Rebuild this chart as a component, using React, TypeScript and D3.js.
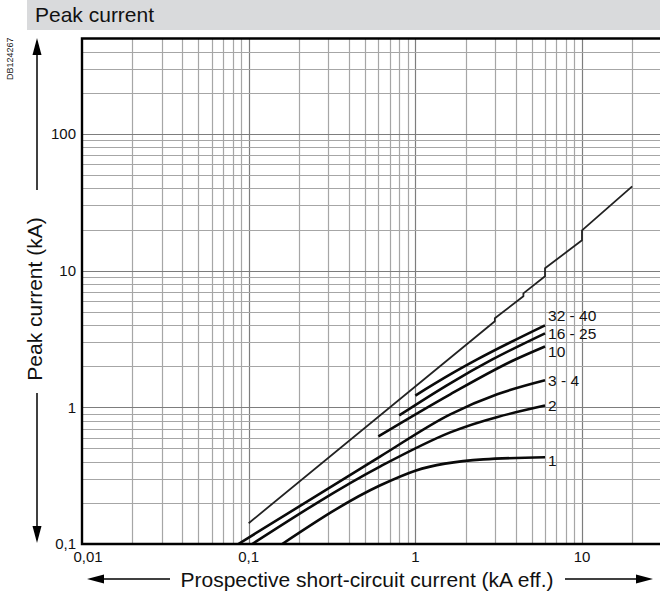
import React, { useEffect, useRef } from 'react';
import * as d3 from 'd3';

// prospective current (kA eff.) -> peak current (kA)
const unlimitedPeak: [number, number][] = [
  [0.1, 0.142], [3, 4.26], [3, 4.48], [4.45, 6.5], [4.45, 6.82],
  [6, 9.1], [6, 10.4], [10, 16.7], [10, 19.7], [20, 41.4],
];
const rating3240: [number, number][] = [[1, 1.22], [1.62, 1.74], [2.35, 2.24], [6, 3.98]];
const rating1625: [number, number][] = [[0.8, 0.874], [1.62, 1.5], [2.9, 2.24], [6, 3.48]];
const rating10: [number, number][] = [[0.6, 0.613], [1.62, 1.245], [3.98, 2.24], [6, 2.79]];
const rating34: [number, number][] = [[0.0867, 0.1], [0.617, 0.438], [1.62, 0.889], [3.1, 1.245], [6, 1.576]];
const rating2: [number, number][] = [[0.105, 0.1], [0.617, 0.37], [1.62, 0.656], [6, 1.03]];
const rating1: [number, number][] = [[0.159, 0.1], [0.617, 0.269], [1, 0.344], [2.56, 0.416], [6, 0.431]];

const ratingLabels = ['32 - 40', '16 - 25', '10', '3 - 4', '2', '1'];
const ratingSeries = [rating3240, rating1625, rating10, rating34, rating2, rating1];

const xTickValues = [0.01, 0.1, 1, 10];
const xTickLabels = ['0,01', '0,1', '1', '10'];
const yTickValues = [0.1, 1, 10, 100];
const yTickLabels = ['0,1', '1', '10', '100'];

const W = 660;
const H = 596;
const FONT = '"Liberation Sans", Arial, sans-serif';
// vertical nudge of the curve labels (px)
const labelDy = [-10, 0, 5, 0, 0, 3];

export default function App() {
  const svgRef = useRef<SVGSVGElement>(null);

  useEffect(() => {
    if (!svgRef.current) return;
    const svg = d3.select(svgRef.current);
    svg.selectAll('*').remove();

    const x = d3.scaleLog().domain([0.01, 10]).range([82, 582]);
    const y = d3.scaleLog().domain([0.1, 100]).range([544, 134]);
    const xMax = 30;
    const yMax = 500;
    const left = x(0.01), bottom = y(0.1), top = y(yMax), right = W + 2;

    svg.append('defs').append('clipPath').attr('id', 'plot')
      .append('rect').attr('x', left).attr('y', top).attr('width', right - left).attr('height', bottom - top);

    // header band
    svg.append('rect').attr('x', 27).attr('y', 0).attr('width', W - 27).attr('height', 30).attr('fill', '#d9dadc');
    svg.append('text').attr('x', 35).attr('y', 22).attr('font-size', 21).attr('font-family', FONT)
      .attr('fill', '#111').text('Peak current');

    svg.append('text').attr('transform', 'translate(13,80) rotate(-90)').attr('font-size', 9)
      .attr('font-family', FONT).attr('fill', '#222').text('DB124267');

    const isDecade = (v: number) => Math.abs(Math.log10(v) - Math.round(Math.log10(v))) < 1e-6;
    const xGrid = d3.scaleLog().domain([0.01, xMax]).ticks().filter(v => v > 0.01);
    const yGrid = d3.scaleLog().domain([0.1, yMax]).ticks().filter(v => v > 0.1 && v < yMax);

    const grid = svg.append('g').attr('clip-path', 'url(#plot)');
    grid.selectAll('line.vx').data(xGrid).enter().append('line')
      .attr('x1', d => Math.round(x(d)) + 0.5).attr('x2', d => Math.round(x(d)) + 0.5)
      .attr('y1', top).attr('y2', bottom)
      .attr('stroke', d => isDecade(d) ? '#7d7d7d' : '#a6a6a6').attr('stroke-width', 1.2);
    grid.selectAll('line.hy').data(yGrid).enter().append('line')
      .attr('y1', d => Math.round(y(d)) + 0.5).attr('y2', d => Math.round(y(d)) + 0.5)
      .attr('x1', left).attr('x2', right)
      .attr('stroke', d => isDecade(d) ? '#7d7d7d' : '#a6a6a6').attr('stroke-width', 1.2);

    const curves = svg.append('g').attr('clip-path', 'url(#plot)');
    const straight = d3.line<[number, number]>().x(d => x(d[0])).y(d => y(d[1]));
    const smooth = d3.line<[number, number]>().x(d => x(d[0])).y(d => y(d[1])).curve(d3.curveMonotoneX);

    curves.append('path').attr('d', straight(unlimitedPeak)).attr('fill', 'none')
      .attr('stroke', '#222').attr('stroke-width', 1.8).attr('stroke-linejoin', 'round');
    ratingSeries.forEach(s => {
      curves.append('path').attr('d', smooth(s)).attr('fill', 'none')
        .attr('stroke', '#0a0a0a').attr('stroke-width', 2.6);
    });

    ratingSeries.forEach((s, i) => {
      const last = s[s.length - 1];
      svg.append('text').attr('x', x(last[0]) + 3).attr('y', y(last[1]) + labelDy[i])
        .attr('dy', '0.35em').attr('font-size', 15.5).attr('font-family', FONT).attr('fill', '#111')
        .text(ratingLabels[i]);
    });

    // frame
    svg.append('path').attr('d', `M${right},${top}H${left}V${bottom}H${right}`)
      .attr('fill', 'none').attr('stroke', '#000').attr('stroke-width', 2.4);

    // tick labels
    svg.selectAll('text.xt').data(xTickValues).enter().append('text')
      .attr('x', (d, i) => x(d) + (i === 0 ? 6 : 0)).attr('y', 562)
      .attr('text-anchor', 'middle').attr('font-size', 15).attr('font-family', FONT).attr('fill', '#111')
      .text((d, i) => xTickLabels[i]);
    svg.selectAll('text.yt').data(yTickValues).enter().append('text')
      .attr('x', 76).attr('y', d => y(d)).attr('dy', '0.35em')
      .attr('text-anchor', 'end').attr('font-size', 15).attr('font-family', FONT).attr('fill', '#111')
      .text((d, i) => yTickLabels[i]);

    // axis titles with arrows
    svg.append('text').attr('transform', 'translate(42,299) rotate(-90)').attr('text-anchor', 'middle')
      .attr('font-size', 21).attr('font-family', FONT).attr('fill', '#111').text('Peak current (kA)');
    svg.append('text').attr('x', 367).attr('y', 587).attr('text-anchor', 'middle')
      .attr('font-size', 21).attr('font-family', FONT).attr('fill', '#111')
      .text('Prospective short-circuit current (kA eff.)');

    const ax = svg.append('g').attr('stroke', '#000').attr('stroke-width', 1.5);
    ax.append('line').attr('x1', 37).attr('x2', 37).attr('y1', 52).attr('y2', 190);
    ax.append('line').attr('x1', 37).attr('x2', 37).attr('y1', 393).attr('y2', 529);
    ax.append('line').attr('x1', 102).attr('x2', 170).attr('y1', 579).attr('y2', 579);
    ax.append('line').attr('x1', 565).attr('x2', 638).attr('y1', 579).attr('y2', 579);
    const heads = [
      'M37,38 L32.5,55 L41.5,55 Z',
      'M37,543 L32.5,526 L41.5,526 Z',
      'M87,579 L104,574.5 L104,583.5 Z',
      'M653,579 L636,574.5 L636,583.5 Z',
    ];
    svg.selectAll('path.head').data(heads).enter().append('path').attr('d', d => d).attr('fill', '#000');
  }, []);

  return (
    <svg ref={svgRef} width={W} height={H}
      style={{ position: 'absolute', left: 0, top: 0, background: '#fff', display: 'block' }} />
  );
}
